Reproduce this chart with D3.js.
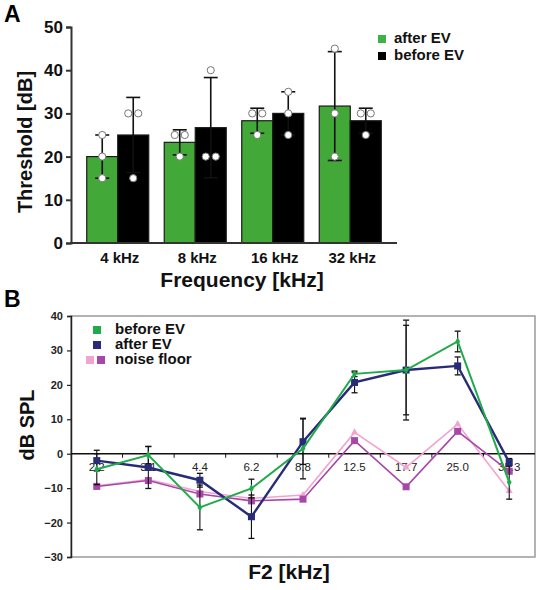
<!DOCTYPE html>
<html>
<head>
<meta charset="utf-8">
<script src="https://cdn.jsdelivr.net/npm/d3@7"></script>
<style>
  html, body { margin: 0; padding: 0; background: #fff; }
  svg { display: block; font-family: "Liberation Sans", Arial, sans-serif; }
</style>
</head>
<body>
<svg id="chart" width="540" height="590"></svg>
<script>
// ---------- Panel A data ----------
const freqA = ["4 kHz", "8 kHz", "16 kHz", "32 kHz"];
const seriesA = ["after EV", "before EV"];
const afterMean = [20, 23.3, 28.3, 31.7];
const afterSD = [5, 2.9, 2.9, 12.6];
const beforeMean = [25, 26.7, 30, 28.3];
const beforeSD = [8.7, 11.6, 5, 2.9];
const afterPoints = [[25, 20, 15], [25, 25, 20], [30, 30, 25], [45, 30, 20]];
const beforePoints = [[30, 30, 15], [40, 20, 20], [35, 30, 25], [30, 30, 25]];
const yTicksA = [0, 10, 20, 30, 40, 50];

// ---------- Panel B data ----------
const f2 = ["2.2", "3.1", "4.4", "6.2", "8.8", "12.5", "17.7", "25.0", "35.3"];
const beforeEV = [-4.5, -0.4, -15.6, -10.1, 1.5, 23.2, 24.3, 32.6, -8.3];
const beforeEVsd = [4.5, 2.5, 6.5, 2.7, 8.8, 0.8, 14.5, 3.0, 4.9];
const afterEV = [-2.0, -4.0, -7.7, -18.3, 3.5, 20.7, 24.3, 25.5, -2.5];
const afterEVsd = [3.0, 6.1, 2.0, 6.3, 6.6, 3.0, 13.0, 2.6, 1.1];
const noiseBefore = [-9.3, -7.5, -11.0, -13.0, -12.0, 6.2, -4.0, 8.6, -10.8];
const noiseAfter = [-9.5, -7.8, -11.7, -13.7, -13.2, 3.8, -9.6, 6.5, -5.1];
const yTicksB = [-30, -20, -10, 0, 10, 20, 30, 40];

const svg = d3.select("#chart");
const GREEN_A = "#42a838";
const GREEN_B = "#1fab4a";
const NAVY = "#282c78";
const PURPLE = "#a648a8";
const PINK = "#f3a3cf";

// ================= PANEL A =================
const gA = svg.append("g");
const xA = d3.scaleBand().domain(freqA).range([71, 397]).paddingInner(0.2).paddingOuter(0.203);
const xSub = d3.scaleBand().domain(seriesA).range([0, xA.bandwidth()]);
const yA = d3.scaleLinear().domain([0, 50]).range([243, 27]);

gA.append("text").attr("x", 4).attr("y", 22).attr("font-size", 23).attr("font-weight", "bold").text("A");

const barsA = [];
freqA.forEach((f, i) => {
  barsA.push({f, s: "after EV", mean: afterMean[i], sd: afterSD[i], pts: afterPoints[i], color: GREEN_A});
  barsA.push({f, s: "before EV", mean: beforeMean[i], sd: beforeSD[i], pts: beforePoints[i], color: "#000"});
});

gA.selectAll("rect.bar").data(barsA).join("rect")
  .attr("x", d => xA(d.f) + xSub(d.s))
  .attr("width", xSub.bandwidth())
  .attr("y", d => yA(d.mean))
  .attr("height", d => yA(0) - yA(d.mean))
  .attr("fill", d => d.color)
  .attr("stroke", "#1a1a1a").attr("stroke-width", 1.2);
// error bars + caps
barsA.forEach(d => {
  const cx = xA(d.f) + xSub(d.s) + xSub.bandwidth() / 2;
  gA.append("line").attr("x1", cx).attr("x2", cx).attr("y1", yA(d.mean + d.sd)).attr("y2", yA(d.mean - d.sd))
    .attr("stroke", "#111").attr("stroke-width", 1.6);
  [d.mean + d.sd, d.mean - d.sd].forEach(v => {
    gA.append("line").attr("x1", cx - 7).attr("x2", cx + 7).attr("y1", yA(v)).attr("y2", yA(v))
      .attr("stroke", "#111").attr("stroke-width", 1.6);
  });
});
// points
barsA.forEach(d => {
  const cx = xA(d.f) + xSub(d.s) + xSub.bandwidth() / 2;
  const counts = d3.rollup(d.pts, v => v.length, v => v);
  const seen = new Map();
  d.pts.forEach(v => {
    const n = counts.get(v);
    const k = seen.get(v) || 0;
    seen.set(v, k + 1);
    const off = n > 1 ? (k - (n - 1) / 2) * 10 : 0;
    gA.append("circle").attr("cx", cx + off).attr("cy", yA(v)).attr("r", 3.6)
      .attr("fill", "#fff").attr("stroke", "#777").attr("stroke-width", 1);
  });
});
// axes
const axYA = gA.append("g").attr("transform", "translate(71,0)")
  .call(d3.axisLeft(yA).tickValues(yTicksA).tickSize(5).tickPadding(3));
axYA.select(".domain").attr("stroke", "#333").attr("stroke-width", 2);
axYA.selectAll(".tick line").attr("stroke", "#333").attr("stroke-width", 2);
axYA.selectAll(".tick text").attr("font-size", 17).attr("font-weight", "bold").attr("fill", "#111")
  .attr("font-family", "Liberation Sans, Arial, sans-serif");
gA.append("line").attr("x1", 70).attr("x2", 397).attr("y1", 243).attr("y2", 243).attr("stroke", "#333").attr("stroke-width", 2);
freqA.forEach(f => {
  gA.append("text").attr("x", xA(f) + xA.bandwidth() / 2 + 2).attr("y", 263).attr("text-anchor", "middle")
    .attr("font-size", 15).attr("font-weight", "bold").attr("fill", "#111").text(f);
});
gA.append("text").attr("x", 242).attr("y", 287).attr("text-anchor", "middle")
  .attr("font-size", 21).attr("font-weight", "bold").attr("fill", "#111").text("Frequency [kHz]");
gA.append("text").attr("transform", "translate(32,142) rotate(-90)").attr("text-anchor", "middle")
  .attr("font-size", 20).attr("font-weight", "bold").attr("fill", "#111").text("Threshold [dB]");
// legend A
[["after EV", "#3db24a", 43], ["before EV", "#000", 60]].forEach(([t, c, y]) => {
  gA.append("rect").attr("x", 378).attr("y", y - 8).attr("width", 8).attr("height", 8).attr("fill", c);
  gA.append("text").attr("x", 394).attr("y", y).attr("font-size", 15).attr("font-weight", "bold").attr("fill", "#111").text(t);
});

// ================= PANEL B =================
const gB = svg.append("g");
const xB = d3.scalePoint().domain(f2).range([71, 535]).padding(0.5);
const stepB = xB.step();
const yB = d3.scaleLinear().domain([-30, 40]).range([557, 316]);

gB.append("text").attr("x", 4).attr("y", 307).attr("font-size", 23).attr("font-weight", "bold").text("B");

// frame
gB.append("rect").attr("x", 71).attr("y", 316).attr("width", 464).attr("height", 241)
  .attr("fill", "none").attr("stroke", "#9a9a9a").attr("stroke-width", 1.5);
const axYB = gB.append("g").attr("transform", "translate(71,0)")
  .call(d3.axisLeft(yB).tickValues(yTicksB).tickSize(4).tickPadding(4));
axYB.select(".domain").attr("stroke", "#222").attr("stroke-width", 1.5);
axYB.selectAll(".tick line").attr("stroke", "#222").attr("stroke-width", 1.2);
axYB.selectAll(".tick text").attr("font-size", 11).attr("font-weight", "bold").attr("fill", "#222")
  .attr("font-family", "Liberation Sans, Arial, sans-serif");

// zero line with ticks at category boundaries
gB.append("line").attr("x1", 71).attr("x2", 535).attr("y1", yB(0)).attr("y2", yB(0)).attr("stroke", "#111").attr("stroke-width", 1.5);
f2.forEach((c, i) => {
  if (i === 0) return;
  const bx = xB(c) - stepB / 2;
  gB.append("line").attr("x1", bx).attr("x2", bx).attr("y1", yB(0)).attr("y2", yB(0) + 4).attr("stroke", "#111").attr("stroke-width", 1);
});
f2.forEach(c => {
  gB.append("text").attr("x", xB(c)).attr("y", yB(0) + 17).attr("text-anchor", "middle")
    .attr("font-size", 11.5).attr("fill", "#222").text(c);
});

const line = d3.line().x((d, i) => xB(f2[i])).y(d => yB(d));

// noise floor lines
gB.append("path").datum(noiseBefore).attr("d", line).attr("fill", "none").attr("stroke", PINK).attr("stroke-width", 1.6);
gB.append("path").datum(noiseAfter).attr("d", line).attr("fill", "none").attr("stroke", PURPLE).attr("stroke-width", 1.6);
noiseBefore.forEach((v, i) => {
  gB.append("path").attr("d", d3.symbol(d3.symbolTriangle, 22)()).attr("transform", `translate(${xB(f2[i])},${yB(v)})`).attr("fill", PINK);
});
noiseAfter.forEach((v, i) => {
  gB.append("rect").attr("x", xB(f2[i]) - 3.5).attr("y", yB(v) - 3.5).attr("width", 7).attr("height", 7).attr("fill", PURPLE);
});

// error bars
function errBars(vals, sds) {
  vals.forEach((v, i) => {
    const cx = xB(f2[i]);
    gB.append("line").attr("x1", cx).attr("x2", cx).attr("y1", yB(v + sds[i])).attr("y2", yB(v - sds[i])).attr("stroke", "#111").attr("stroke-width", 1.1);
    [v + sds[i], v - sds[i]].forEach(e => {
      gB.append("line").attr("x1", cx - 3).attr("x2", cx + 3).attr("y1", yB(e)).attr("y2", yB(e)).attr("stroke", "#111").attr("stroke-width", 1.3);
    });
  });
}
errBars(beforeEV, beforeEVsd);
errBars(afterEV, afterEVsd);

gB.append("path").datum(afterEV).attr("d", line).attr("fill", "none").attr("stroke", NAVY).attr("stroke-width", 2.4);
afterEV.forEach((v, i) => {
  gB.append("rect").attr("x", xB(f2[i]) - 3.5).attr("y", yB(v) - 3.5).attr("width", 7).attr("height", 7).attr("fill", NAVY);
});
gB.append("path").datum(beforeEV).attr("d", line).attr("fill", "none").attr("stroke", GREEN_B).attr("stroke-width", 2);
beforeEV.forEach((v, i) => {
  gB.append("path").attr("d", d3.symbol(d3.symbolDiamond, 20)()).attr("transform", `translate(${xB(f2[i])},${yB(v)})`).attr("fill", GREEN_B);
});

// legend B
gB.append("rect").attr("x", 93).attr("y", 326).attr("width", 8).attr("height", 8).attr("fill", GREEN_B);
gB.append("text").attr("x", 115).attr("y", 334).attr("font-size", 15).attr("font-weight", "bold").attr("fill", "#111").text("before EV");
gB.append("rect").attr("x", 93).attr("y", 341).attr("width", 8).attr("height", 8).attr("fill", NAVY);
gB.append("text").attr("x", 115).attr("y", 349).attr("font-size", 15).attr("font-weight", "bold").attr("fill", "#111").text("after EV");
gB.append("rect").attr("x", 86).attr("y", 356).attr("width", 8).attr("height", 8).attr("fill", PINK);
gB.append("rect").attr("x", 97).attr("y", 356).attr("width", 8).attr("height", 8).attr("fill", PURPLE);
gB.append("text").attr("x", 115).attr("y", 364).attr("font-size", 15).attr("font-weight", "bold").attr("fill", "#111").text("noise floor");

// titles
gB.append("text").attr("transform", "translate(34,425) rotate(-90)").attr("text-anchor", "middle")
  .attr("font-size", 20).attr("font-weight", "bold").attr("fill", "#111").text("dB SPL");
gB.append("text").attr("x", 289).attr("y", 579).attr("text-anchor", "middle")
  .attr("font-size", 21).attr("font-weight", "bold").attr("fill", "#111").text("F2 [kHz]");
</script>
</body>
</html>
